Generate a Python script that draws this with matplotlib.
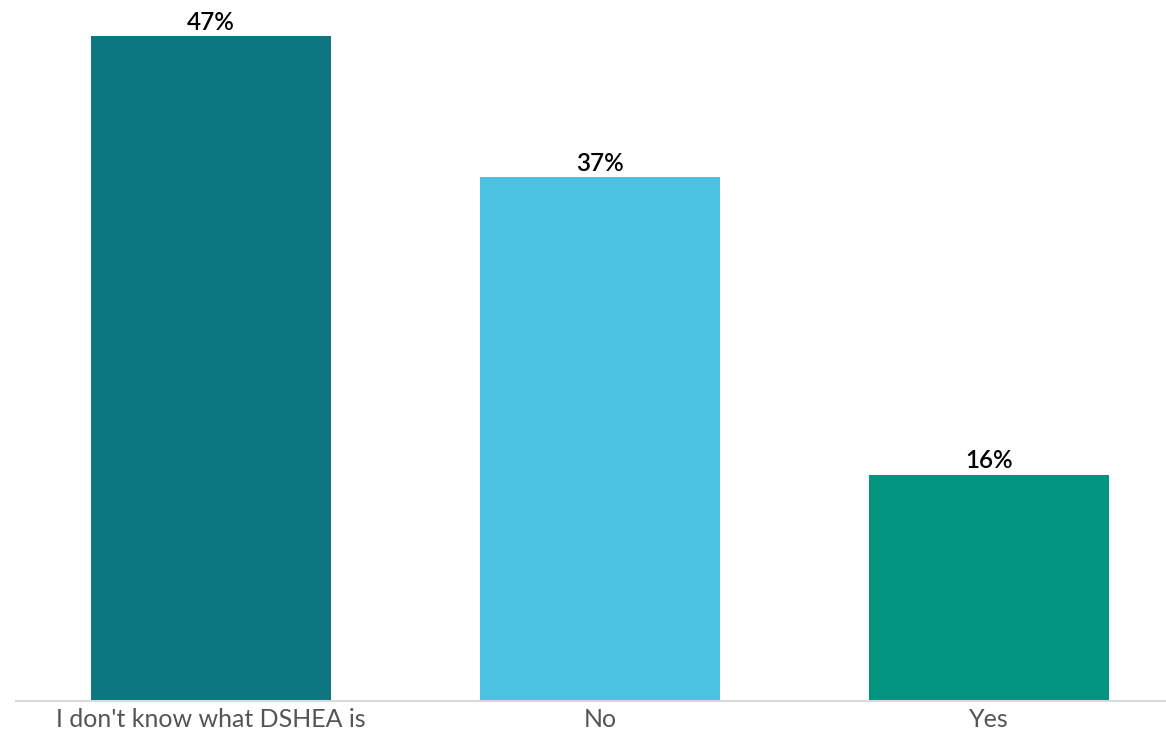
import matplotlib
matplotlib.use("Agg")
import matplotlib.pyplot as plt

categories = ["I don't know what DSHEA is", "No", "Yes"]
values = [47, 37, 16]
colors = ["#0E7680", "#4DC1E2", "#009481"]

plt.rcParams['font.family'] = ['Lato', 'DejaVu Sans']

fig = plt.figure(figsize=(11.66, 7.33), dpi=100)
ax = fig.add_axes([16 / 1166, 32 / 733, 1 - 16 / 1166, 701 / 733])

x = range(len(categories))
bars = ax.bar(x, values, width=0.617, color=colors)

for b, v in zip(bars, values):
    ax.text(b.get_x() + b.get_width() / 2, v + 0.15, f"{v}%",
            ha="center", va="bottom", fontsize=17.5, color="black",
            fontweight="semibold")

ax.set_xlim(-0.501, 2.455)
ax.set_ylim(0, 49.54)
ax.set_xticks(list(x))
ax.set_xticklabels(categories, fontsize=18, color="#555555")
ax.tick_params(axis="x", length=0, pad=5)
ax.set_yticks([])
for s in ["top", "right", "left"]:
    ax.spines[s].set_visible(False)
ax.spines["bottom"].set_color("#D9D9D9")
ax.spines["bottom"].set_linewidth(1.5)

fig.savefig("out.png", dpi=100)
